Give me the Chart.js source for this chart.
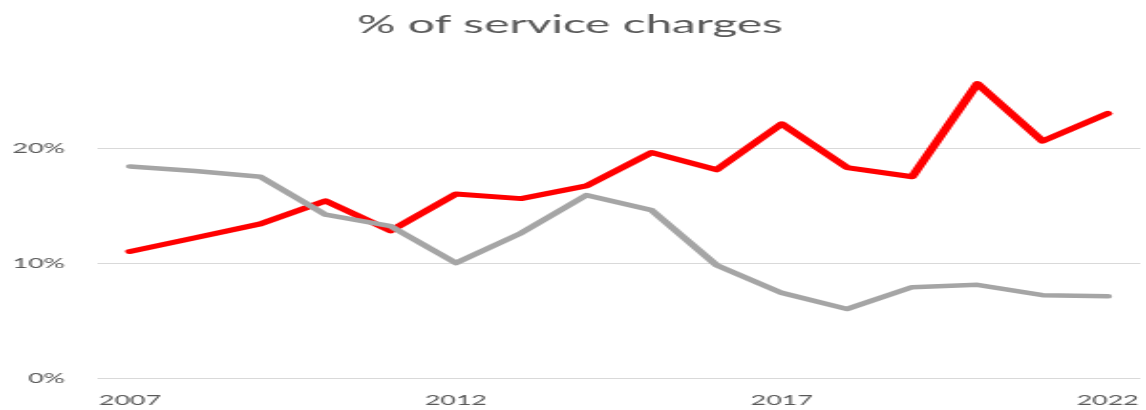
<!DOCTYPE html>
<html>
<head>
<meta charset="utf-8">
<script src="https://cdn.jsdelivr.net/npm/chart.js@4.4.0/dist/chart.umd.min.js"></script>
<style>
  html, body { margin: 0; padding: 0; background: #fff; overflow: hidden; }
  /* drawn narrow, then widened to the window like the original export */
  #chart { display: block; width: 1146px !important; height: 410px !important; }
</style>
</head>
<body>
<canvas id="chart" width="600" height="410"></canvas>
<script>
const years = ['2007', '2008', '2009', '2010', '2011', '2012', '2013', '2014',
  '2015', '2016', '2017', '2018', '2019', '2020', '2021', '2022'];
const redShare = [0.110, 0.122, 0.134, 0.154, 0.128, 0.160, 0.156, 0.167,
  0.196, 0.181, 0.221, 0.183, 0.175, 0.256, 0.206, 0.230];
const greyShare = [0.184, 0.180, 0.175, 0.142, 0.132, 0.100, 0.126, 0.159,
  0.146, 0.098, 0.074, 0.060, 0.079, 0.081, 0.072, 0.071];
const yTicks = [0, 0.1, 0.2];

const textColor = '#595959';
const fontFamily = 'Lato, "Open Sans", sans-serif';

const ctx = document.getElementById('chart');

new Chart(ctx, {
  type: 'line',
  data: {
    labels: years,
    datasets: [
      {
        data: greyShare,
        borderColor: '#a5a5a5',
        borderWidth: 4.5,
        order: 0,
      },
      {
        data: redShare,
        borderColor: '#ff0000',
        borderWidth: 5,
        order: 1,
      },
    ],
  },
  options: {
    responsive: false,
    animation: false,
    layout: { padding: { left: 0, right: 3, top: 0, bottom: 0 } },
    elements: {
      point: { radius: 0 },
      line: { tension: 0, borderJoinStyle: 'round', borderCapStyle: 'round', fill: false },
    },
    plugins: {
      legend: { display: false },
      tooltip: { enabled: false },
      title: {
        display: true,
        text: '% of service charges',
        color: textColor,
        font: { family: fontFamily, size: 25, weight: 'normal', lineHeight: 1.2 },
        padding: { top: 10, bottom: 6 },
      },
    },
    scales: {
      x: {
        offset: true,
        afterFit: (scale) => {
          // the end labels sit inside the plot, no extra side room needed
          scale.height = 32;
          scale.paddingLeft = 0;
          scale.paddingRight = 0;
        },
        grid: { display: false, drawTicks: false },
        border: { display: false },
        ticks: {
          autoSkip: false,
          maxRotation: 0,
          padding: 15,
          color: textColor,
          font: { family: fontFamily, size: 14, lineHeight: 1.0 },
          callback: (value, index) => (index % 5 === 0 ? years[index] : ''),
        },
      },
      y: {
        min: 0,
        max: 0.2887,
        afterBuildTicks: (scale) => {
          scale.ticks = yTicks.map((v) => ({ value: v }));
        },
        afterFit: (scale) => {
          scale.width = 51;
        },
        grid: { color: '#d9d9d9', lineWidth: 1, drawTicks: false },
        border: { display: false },
        ticks: {
          padding: 17,
          color: textColor,
          font: { family: fontFamily, size: 14 },
          callback: (value) => Math.round(value * 100) + '%',
        },
      },
    },
  },
});
</script>
</body>
</html>
